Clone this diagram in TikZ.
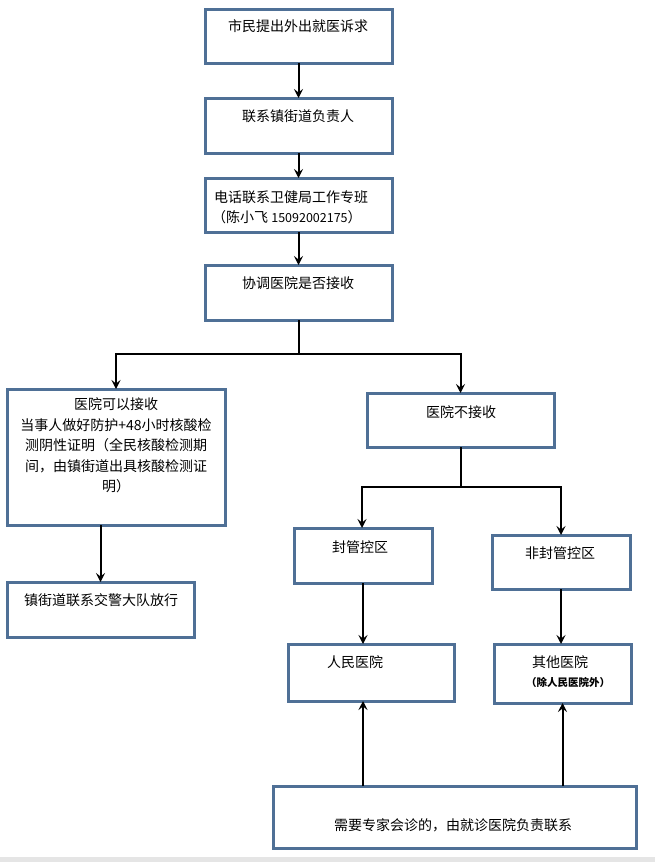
\documentclass[tikz,border=0pt]{standalone}
\usepackage{fontspec}
\setmainfont{Noto Sans CJK SC}
\usetikzlibrary{arrows.meta}
\definecolor{boxblue}{RGB}{79,112,150}
\tikzset{
  flowbox/.style={draw=boxblue, line width=3pt, fill=white, rectangle, inner sep=0pt, outer sep=0pt},
  txt/.style={inner sep=0pt, font=\fontsize{14}{20.5}\selectfont, align=center},
  arr/.style={draw=black, line width=2pt, -{Stealth[length=9pt,width=9pt,inset=3.5pt]}},
  plain/.style={draw=black, line width=2pt}
}
\newcommand{\flowrect}[5]{%
  \node[flowbox, minimum width=#4-#2, minimum height=#5-#3, anchor=north west] (#1) at (#2,#3) {};}
\begin{document}
\begin{tikzpicture}[x=1pt,y=-1pt]
\useasboundingbox (0,0) rectangle (655,862);
\fill[white] (0,0) rectangle (655,862);
\fill[black!10] (0,857) rectangle (655,862);

% boxes
\flowrect{b1}{205}{9}{392}{63}
\flowrect{b2}{205}{98}{392}{153}
\flowrect{b3}{205}{178}{392}{232}
\flowrect{b4}{205}{265}{392}{320}
\flowrect{L1}{7}{389}{225}{525}
\flowrect{L2}{7}{582}{194}{637}
\flowrect{R1}{367}{393}{554}{447}
\flowrect{A}{294}{528}{432}{583}
\flowrect{B}{492}{535}{630}{589}
\flowrect{C}{288}{644}{454}{701}
\flowrect{D}{494}{644}{631}{703}
\flowrect{E}{273}{786}{636}{848}

% texts
\node[txt] (t1) at (298,26) {市民提出外出就医诉求};
\node[txt] (t2) at (298,116) {联系镇街道负责人};
\node[txt, anchor=west] (t3a) at (214,197) {电话联系卫健局工作专班};
\node[txt, anchor=west] (t3b) at (212,217) {（陈小飞 {\fontsize{12.5}{14}\selectfont 15092002175}）};
\node[txt] (t4) at (298,283) {协调医院是否接收};
\node[txt, anchor=north] (tL1) at (116,397.5) {医院可以接收\\当事人做好防护+48小时核酸检\\测阴性证明（全民核酸检测期\\间，由镇街道出具核酸检测证\\明）};
\node[txt] (tL2) at (101,600) {镇街道联系交警大队放行};
\node[txt] (tR1) at (461,412) {医院不接收};
\node[txt] (tA) at (360,547) {封管控区};
\node[txt] (tB) at (560,553) {非封管控区};
\node[txt] (tC) at (355,662) {人民医院};
\node[txt] (tD) at (560,662) {其他医院};
\node[txt, font=\fontsize{10.5}{12}\selectfont\bfseries] (tD2) at (568,682) {（除人民医院外）};
\node[txt] (tE) at (453,825) {需要专家会诊的，由就诊医院负责联系};

% connectors
\draw[arr] (b1.south) -- (b2.north);
\draw[arr] (b2.south) -- (b3.north);
\draw[arr] (b3.south) -- (b4.north);

\coordinate (j1) at (b4.south |- 0,353.5);
\draw[plain] (b4.south) -- (j1);
\draw[arr] (j1) -| (L1.north);
\draw[arr] (j1) -| (R1.north);

\coordinate (j2) at (R1.south |- 0,487);
\draw[plain] (R1.south) -- (j2);
\coordinate (aN) at (362,528);
\draw[arr] (j2) -| (aN);
\draw[arr] (j2) -| (B.north);

\draw[arr] (L2.north |- L1.south) -- (L2.north);
\draw[arr] (A.south) -- (A.south |- C.north);
\draw[arr] (B.south) -- (B.south |- D.north);
\draw[arr] (E.north -| A.south) -- (C.south -| A.south);
\draw[arr] (E.north -| D.south) -- (D.south);
\end{tikzpicture}
\end{document}
